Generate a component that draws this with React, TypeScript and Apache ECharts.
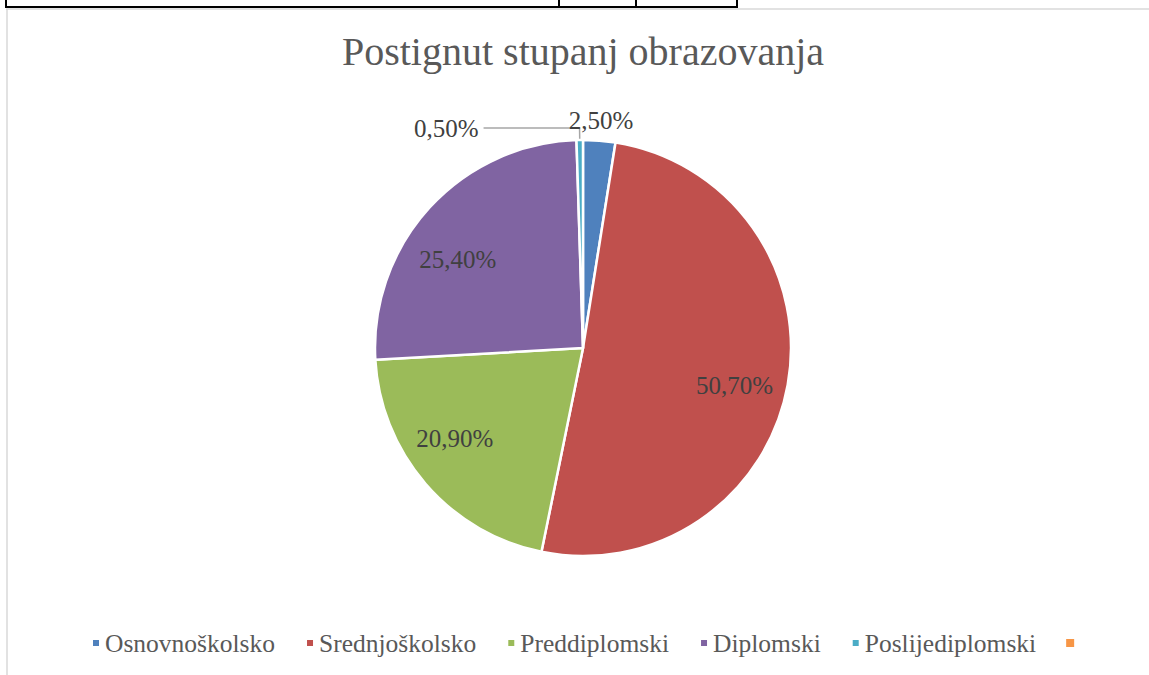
import React, { useEffect, useRef } from "react";
import * as echarts from "echarts";

const titleText = "Postignut stupanj obrazovanja";
const categories = ["Osnovnoškolsko", "Srednjoškolsko", "Preddiplomski", "Diplomski", "Poslijediplomski", " "];
const values = [2.5, 50.7, 20.9, 25.4, 0.5, 0];
const colors = ["#4F81BD", "#C0504D", "#9BBB59", "#8064A2", "#4BACC6", "#F79646"];

const SERIF = "'Liberation Serif', 'DejaVu Serif', serif";

const fmt = (v: number) => v.toFixed(2).replace(".", ",") + "%";

// label nudges (style offsets, in px) to mimic the original label placement
const labelNudge: Record<number, [number, number]> = {
  0: [-36, -14],
  1: [-5, 9],
  2: [-8, -14],
  3: [-8, 19],
};

export default function App() {
  const ref = useRef<HTMLDivElement>(null);
  useEffect(() => {
    if (!ref.current) return;
    const chart = echarts.init(ref.current, undefined, { renderer: "svg" });
    const center = [583, 348];
    const R = 208;

    const mainData = categories.map((name, i) => ({
      name,
      value: values[i],
      itemStyle: {
        color: colors[i],
        borderColor: "#ffffff",
        borderWidth: values[i] > 0 ? 2.5 : 0,
      },
    }));

    const labelData = categories.map((name, i) => {
      const v = values[i];
      const small = v > 0 && v < 5;
      const item: any = {
        name,
        value: v,
        itemStyle: { color: "rgba(0,0,0,0)", borderWidth: 0 },
      };
      if (v <= 0) {
        item.label = { show: false };
        item.labelLine = { show: false };
      } else if (small) {
        if (i === 0) {
          item.label = { show: true, position: "outside" };
          item.labelLine = { show: false, length: 6, length2: 0 };
        } else {
          item.label = { show: true, position: "outside" };
          item.labelLine = {
            show: true,
            length: 12,
            length2: 96,
            lineStyle: { color: "#A6A6A6", width: 1.5 },
          };
        }
      } else {
        item.label = { show: true, position: "inside" };
        item.labelLine = { show: false };
      }
      return item;
    });

    chart.setOption({
      animation: false,
      backgroundColor: "#ffffff",
      textStyle: { fontFamily: SERIF },
      title: {
        text: titleText,
        left: 578,
        top: 26,
        textAlign: "center",
        textStyle: {
          fontFamily: SERIF,
          fontSize: 40,
          fontWeight: "normal",
          color: "#595959",
        },
      },
      legend: {
        data: categories,
        left: 86,
        top: 625,
        icon: "rect",
        itemWidth: 8,
        itemHeight: 8,
        itemGap: 30,
        selectedMode: false,
        textStyle: {
          fontFamily: SERIF,
          fontSize: 25.5,
          color: "#595959",
        },
      },
      graphic: [
        { type: "line", shape: { x1: 6, y1: 7, x2: 738, y2: 7 }, style: { stroke: "#000", lineWidth: 2 } },
        { type: "line", shape: { x1: 6, y1: 0, x2: 6, y2: 8 }, style: { stroke: "#000", lineWidth: 2 } },
        { type: "line", shape: { x1: 559, y1: 0, x2: 559, y2: 8 }, style: { stroke: "#000", lineWidth: 2 } },
        { type: "line", shape: { x1: 636, y1: 0, x2: 636, y2: 8 }, style: { stroke: "#000", lineWidth: 2 } },
        { type: "line", shape: { x1: 737, y1: 0, x2: 737, y2: 8 }, style: { stroke: "#000", lineWidth: 2 } },
        { type: "line", shape: { x1: 6, y1: 9, x2: 1149, y2: 9 }, style: { stroke: "#D9D9D9", lineWidth: 1.5 } },
        { type: "line", shape: { x1: 7, y1: 9, x2: 7, y2: 675 }, style: { stroke: "#D9D9D9", lineWidth: 1.5 } },
      ],
      series: [
        {
          type: "pie",
          center,
          radius: [0, R],
          startAngle: 90,
          clockwise: true,
          silent: true,
          label: { show: false },
          labelLine: { show: false },
          data: mainData,
        },
        {
          type: "pie",
          center,
          radius: [R / 2, R],
          startAngle: 90,
          clockwise: true,
          silent: true,
          label: {
            show: true,
            fontFamily: SERIF,
            fontSize: 25,
            color: "#404040",
            formatter: (p: any) => fmt(p.value),
          },
          labelLayout: (p: any) => {
            const n = labelNudge[p.dataIndex];
            return n ? { dx: n[0], dy: n[1] } : {};
          },
          data: labelData,
        },
      ],
    });
    return () => chart.dispose();
  }, []);
  return (
    <div
      ref={ref}
      style={{ position: "absolute", left: 0, top: 0, width: 1149, height: 675 }}
    />
  );
}
